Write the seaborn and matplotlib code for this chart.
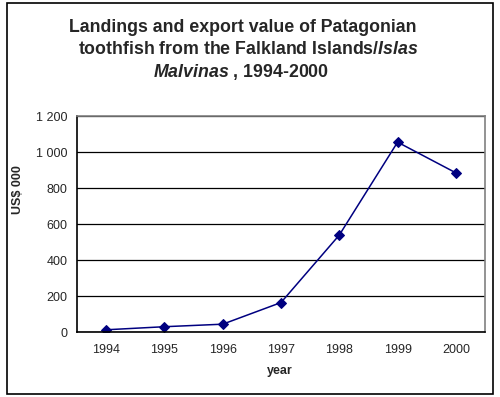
import matplotlib
matplotlib.use("Agg")
import matplotlib.pyplot as plt
import seaborn as sns
import pandas as pd
from matplotlib.ticker import FuncFormatter, FixedLocator
from matplotlib.patches import Rectangle

# values
years = [1994, 1995, 1996, 1997, 1998, 1999, 2000]
value_usd000 = [15, 32, 46, 166, 540, 1055, 885]

df = pd.DataFrame({"year": years, "value": value_usd000})

sns.set_style("white")
plt.rcParams["font.family"] = ["Liberation Sans", "DejaVu Sans"]
plt.rcParams["mathtext.fontset"] = "custom"
plt.rcParams["mathtext.it"] = "Liberation Sans:bold:italic"
plt.rcParams["mathtext.rm"] = "Liberation Sans:bold"

fig = plt.figure(figsize=(5, 3.97), dpi=100)
ax = fig.add_axes([0.154, 0.1625, 0.816, 0.5453])

sns.lineplot(data=df, x="year", y="value", ax=ax, color="#000080",
             marker="D", markersize=5.5, markeredgecolor="#000080",
             linewidth=1.1)

ax.set_xlim(1993.5, 2000.5)
ax.set_ylim(0, 1200)
ax.set_yticks(range(0, 1201, 200))
ax.yaxis.set_major_formatter(FuncFormatter(lambda v, p: f"{int(v):,}".replace(",", " ")))
ax.set_xticks(years)
ax.set_xticklabels([str(y) for y in years])
ax.xaxis.set_minor_locator(FixedLocator([y + 0.5 for y in years]))
ax.tick_params(axis="x", which="major", length=0, pad=8, labelsize=9)
ax.tick_params(axis="x", which="minor", length=4, width=1, direction="out", color="black")
ax.tick_params(axis="y", length=4, width=1, direction="out", color="black", labelsize=9, pad=3)
ax.yaxis.grid(True, color="black", linewidth=0.9)
ax.set_axisbelow(True)

for side in ["left", "bottom"]:
    ax.spines[side].set_color("black")
    ax.spines[side].set_linewidth(1.2)
for side in ["top", "right"]:
    ax.spines[side].set_color("#808080")
    ax.spines[side].set_linewidth(1.2)

ax.set_xlabel("")
ax.set_ylabel("")
fig.text(0.56, 1 - 371 / 397, "year", ha="center", va="center", fontsize=9, fontweight="bold")
fig.text(0.036, 1 - 190 / 397, "US$ 000", ha="center", va="center", rotation=90,
         fontsize=9, fontweight="bold")

# title, with the italic place name
fig.text(243 / 500, 1 - 27 / 397, "Landings and export value of Patagonian",
         ha="center", va="center", fontsize=12.8, fontweight="bold")
fig.text(248 / 500, 1 - 50 / 397, r"toothfish from the Falkland Islands/$\it{Islas}$",
         ha="center", va="center", fontsize=12.8, fontweight="bold")
fig.text(241 / 500, 1 - 72 / 397, r"$\it{Malvinas}$ , 1994-2000",
         ha="center", va="center", fontsize=12.8, fontweight="bold")

# outer chart frame
fig.patches.append(Rectangle((7 / 500, 3 / 397), 486 / 500, 391 / 397,
                             transform=fig.transFigure, fill=False,
                             edgecolor="black", linewidth=1.2))

plt.savefig("out.png", dpi=100)
